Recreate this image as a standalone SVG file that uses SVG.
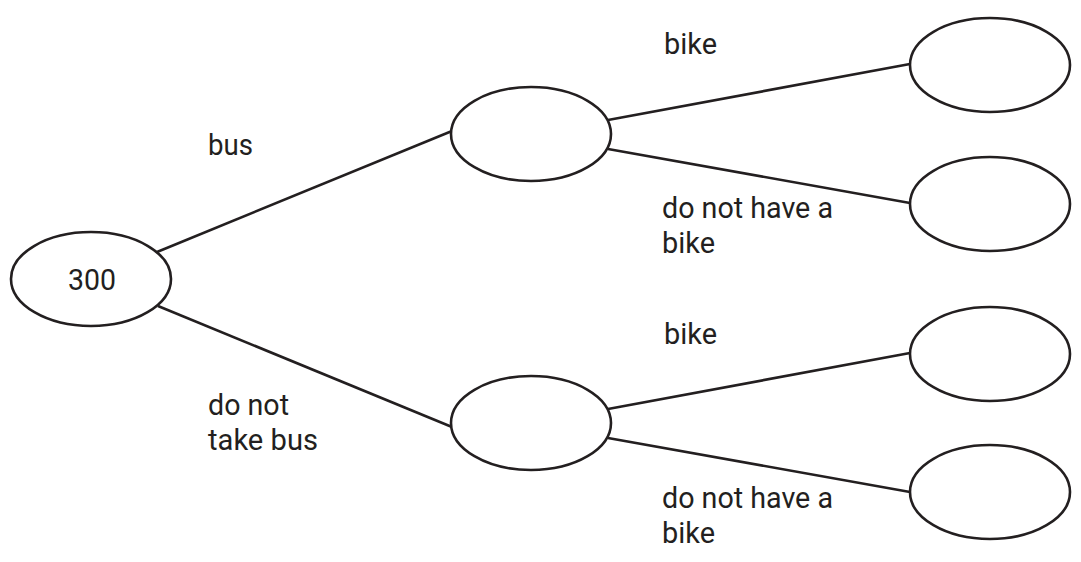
<svg xmlns="http://www.w3.org/2000/svg" width="1081" height="562" viewBox="0 0 1081 562">
<style>
.node{fill:#fff;stroke:#231f20;stroke-width:2.6}
.edge{stroke:#231f20;stroke-width:2.6;fill:none}
.lbl{font-family:Roboto,"Liberation Sans",sans-serif;font-size:29.5px;fill:#231f20}
</style>
<rect width="1081" height="562" fill="#fff"/>
<g id="connectors">
<line class="edge" x1="157" y1="252" x2="452" y2="131"/>
<line class="edge" x1="158" y1="306" x2="452" y2="427"/>
<line class="edge" x1="608" y1="120" x2="910" y2="64"/>
<line class="edge" x1="608" y1="149" x2="910" y2="203"/>
<line class="edge" x1="608" y1="409" x2="910" y2="353"/>
<line class="edge" x1="608" y1="438" x2="910" y2="492"/>
</g>
<g id="root"><ellipse class="node" cx="91" cy="279" rx="80" ry="47"/><text class="lbl" x="68" y="290" textLength="48" lengthAdjust="spacingAndGlyphs">300</text></g>
<g id="bus"><ellipse class="node" cx="531" cy="134" rx="80" ry="47"/></g>
<g id="nobus"><ellipse class="node" cx="531" cy="423" rx="80" ry="47"/></g>
<g id="bus-bike"><ellipse class="node" cx="990" cy="65" rx="80" ry="47"/></g>
<g id="bus-nobike"><ellipse class="node" cx="990" cy="204" rx="80" ry="47"/></g>
<g id="nobus-bike"><ellipse class="node" cx="990" cy="354" rx="80" ry="47"/></g>
<g id="nobus-nobike"><ellipse class="node" cx="990" cy="492" rx="80" ry="47"/></g>
<g id="labels">
<text class="lbl" x="208" y="155" textLength="45" lengthAdjust="spacingAndGlyphs">bus</text>
<text class="lbl" x="208" y="415" textLength="81" lengthAdjust="spacingAndGlyphs">do not</text>
<text class="lbl" x="208" y="450" textLength="110" lengthAdjust="spacingAndGlyphs">take bus</text>
<text class="lbl" x="664" y="54" textLength="53" lengthAdjust="spacingAndGlyphs">bike</text>
<text class="lbl" x="662" y="218" textLength="171" lengthAdjust="spacingAndGlyphs">do not have a</text>
<text class="lbl" x="662" y="253" textLength="53" lengthAdjust="spacingAndGlyphs">bike</text>
<text class="lbl" x="664" y="344" textLength="53" lengthAdjust="spacingAndGlyphs">bike</text>
<text class="lbl" x="662" y="508" textLength="171" lengthAdjust="spacingAndGlyphs">do not have a</text>
<text class="lbl" x="662" y="543" textLength="53" lengthAdjust="spacingAndGlyphs">bike</text>
</g>
</svg>
